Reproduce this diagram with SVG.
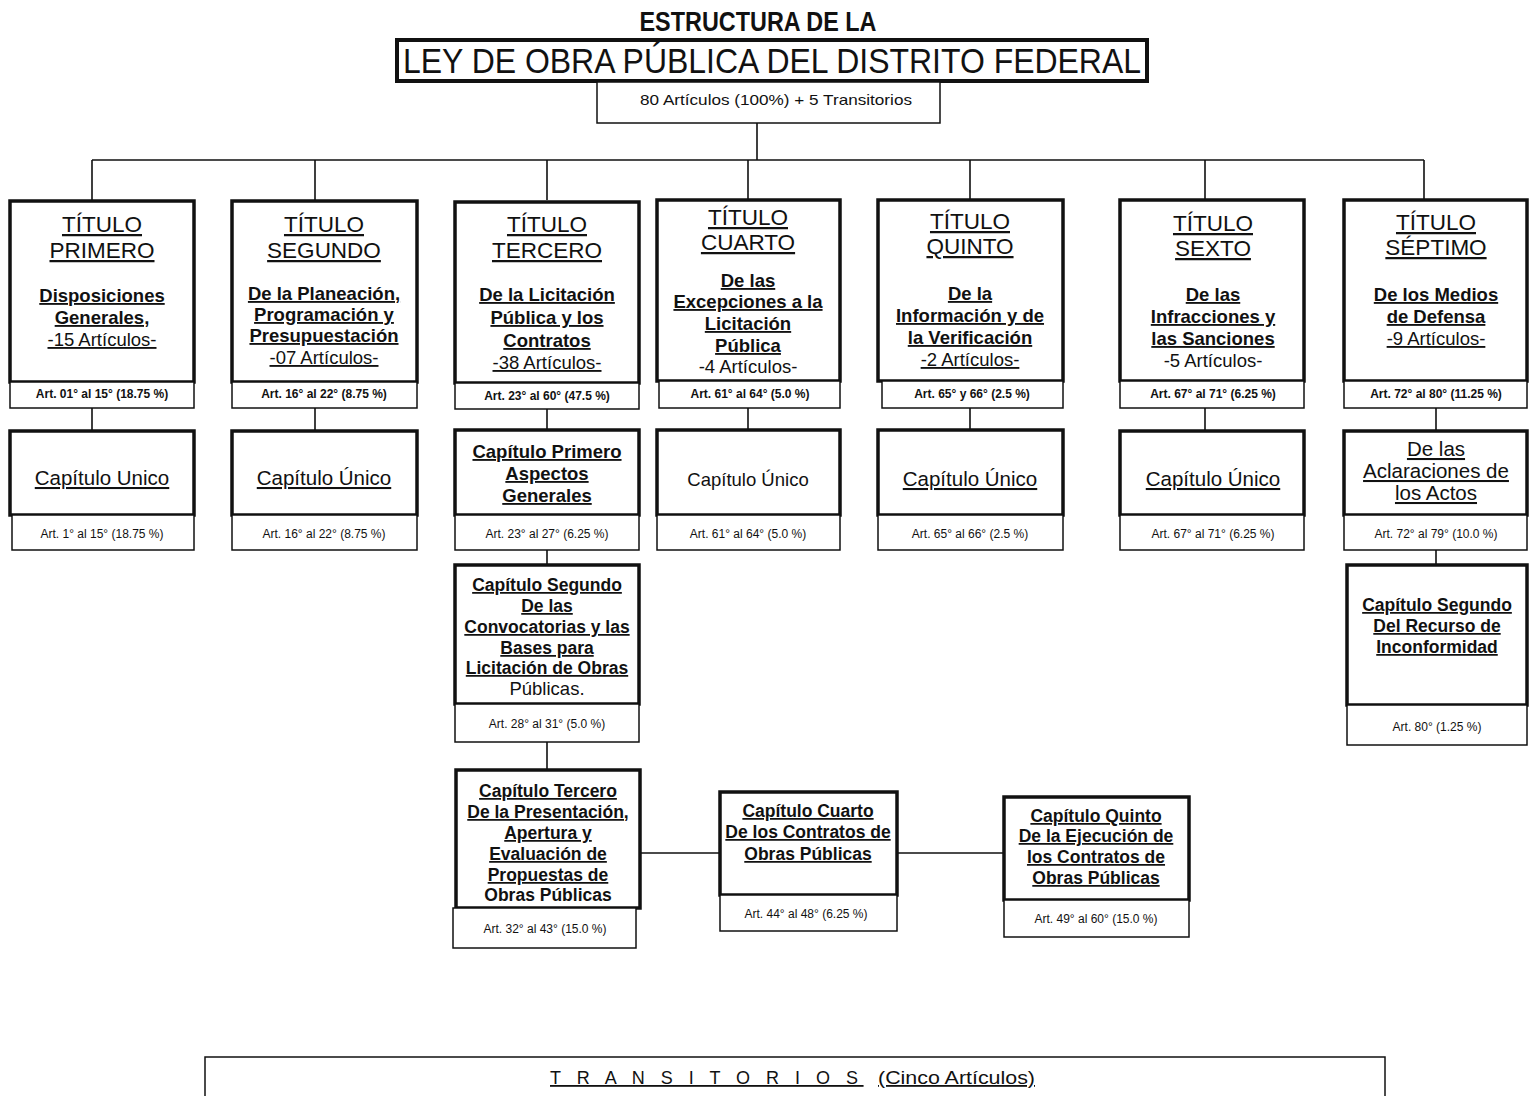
<svg xmlns="http://www.w3.org/2000/svg" width="1530" height="1096" viewBox="0 0 1530 1096">
<style>
text{font-family:"Liberation Sans",Arial,sans-serif;fill:#111;text-anchor:middle}
.bx{fill:#fff;stroke:#111;stroke-width:3.5}
.ab{fill:#fff;stroke:#111;stroke-width:1.5}
.ln{fill:none;stroke:#111;stroke-width:1.6}
.tt{font-size:22.5px;text-decoration:underline}
.st{font-size:18.5px;font-weight:bold;text-decoration:underline}
.sn{font-size:18.5px;text-decoration:underline}
.nu{font-size:18.5px}
.ar{font-size:12px;font-weight:bold}
.an{font-size:12px}
.cu{font-size:20.5px;text-decoration:underline}
.cb{font-size:17.5px;font-weight:bold;text-decoration:underline}
.cbn{font-size:17.5px;font-weight:bold}
.tr{font-size:18px;text-anchor:start;text-decoration:underline}
</style>
<rect width="1530" height="1096" fill="#fff"/>
<g id="header">
<text x="758" y="31" font-size="27" font-weight="bold" textLength="237" lengthAdjust="spacingAndGlyphs">ESTRUCTURA DE LA</text>
<rect x="397" y="40" width="750" height="41" fill="#fff" stroke="#111" stroke-width="4"/>
<text x="772" y="73" font-size="35" textLength="738" lengthAdjust="spacingAndGlyphs">LEY DE OBRA PÚBLICA DEL DISTRITO FEDERAL</text>
<rect x="597" y="82" width="343" height="41" class="ab"/>
<text x="776" y="105" font-size="14.5" textLength="272" lengthAdjust="spacingAndGlyphs">80 Artículos (100%) + 5 Transitorios</text>
</g>
<g id="connectors">
<path class="ln" d="M757 123V160M92 160H1424M92 160V200M315 160V200M547 160V200M748 160V200M970 160V200M1205 160V200M1424 160V200"/>
<path class="ln" d="M92 408V430M315 408V430M547 408V430M748 408V430M970 408V430M1205 408V430M1436 408V430"/>
<path class="ln" d="M547 550V565M547 742V770M1436 550V565M640 853H720M897 853H1003"/>
</g>
<g id="t1">
<rect class="bx" x="10" y="201" width="184" height="181"/>
<rect class="ab" x="10" y="382" width="184" height="26"/>
<text class="tt" x="102" y="232">TÍTULO</text>
<text class="tt" x="102" y="258">PRIMERO</text>
<text class="st" x="102" y="302">Disposiciones</text>
<text class="st" x="102" y="324">Generales,</text>
<text class="sn" x="102" y="346">-15 Artículos-</text>
<text class="ar" x="102" y="398">Art. 01° al 15° (18.75 %)</text>
</g>
<g id="c1">
<rect class="bx" x="10" y="431" width="184" height="84"/>
<rect class="ab" x="12" y="515" width="182" height="35"/>
<text class="cu" x="102" y="485">Capítulo Unico</text>
<text class="an" x="102" y="538">Art. 1° al 15° (18.75 %)</text>
</g>
<g id="t2">
<rect class="bx" x="232" y="201" width="185" height="181"/>
<rect class="ab" x="232" y="382" width="185" height="26"/>
<text class="tt" x="324" y="232">TÍTULO</text>
<text class="tt" x="324" y="258">SEGUNDO</text>
<text class="st" x="324" y="300">De la Planeación,</text>
<text class="st" x="324" y="321">Programación y</text>
<text class="st" x="324" y="342">Presupuestación</text>
<text class="sn" x="324" y="364">-07 Artículos-</text>
<text class="ar" x="324" y="398">Art. 16° al 22° (8.75 %)</text>
</g>
<g id="c2">
<rect class="bx" x="232" y="431" width="185" height="84"/>
<rect class="ab" x="232" y="515" width="185" height="35"/>
<text class="cu" x="324" y="485">Capítulo Único</text>
<text class="an" x="324" y="538">Art. 16° al 22° (8.75 %)</text>
</g>
<g id="t3">
<rect class="bx" x="455" y="202" width="184" height="181"/>
<rect class="ab" x="455" y="383" width="184" height="26"/>
<text class="tt" x="547" y="232">TÍTULO</text>
<text class="tt" x="547" y="258">TERCERO</text>
<text class="st" x="547" y="301">De la Licitación</text>
<text class="st" x="547" y="324">Pública y los</text>
<text class="st" x="547" y="347">Contratos</text>
<text class="sn" x="547" y="369">-38 Artículos-</text>
<text class="ar" x="547" y="400">Art. 23° al 60° (47.5 %)</text>
</g>
<g id="c3a">
<rect class="bx" x="455" y="430" width="184" height="85"/>
<rect class="ab" x="455" y="515" width="184" height="35"/>
<text class="st" x="547" y="458" font-size="19">Capítulo Primero</text>
<text class="st" x="547" y="480" font-size="19">Aspectos</text>
<text class="st" x="547" y="502" font-size="19">Generales</text>
<text class="an" x="547" y="538">Art. 23° al 27° (6.25 %)</text>
</g>
<g id="c3b">
<rect class="bx" x="455" y="565" width="184" height="139"/>
<rect class="ab" x="455" y="704" width="184" height="38"/>
<text class="cb" x="547" y="591">Capítulo Segundo</text>
<text class="cb" x="547" y="612">De las</text>
<text class="cb" x="547" y="633">Convocatorias y las</text>
<text class="cb" x="547" y="654">Bases para</text>
<text class="cb" x="547" y="674">Licitación de Obras</text>
<text class="nu" x="547" y="695" font-size="17.5">Públicas.</text>
<text class="an" x="547" y="728">Art. 28° al 31° (5.0 %)</text>
</g>
<g id="c3c">
<rect class="bx" x="456" y="770" width="184" height="138"/>
<rect class="ab" x="453" y="908" width="183" height="40"/>
<text class="cb" x="548" y="797">Capítulo Tercero</text>
<text class="cb" x="548" y="818">De la Presentación,</text>
<text class="cb" x="548" y="839">Apertura y</text>
<text class="cb" x="548" y="860">Evaluación de</text>
<text class="cb" x="548" y="881">Propuestas de</text>
<text class="cbn" x="548" y="901">Obras Públicas</text>
<text class="an" x="545" y="933">Art. 32° al 43° (15.0 %)</text>
</g>
<g id="c3d">
<rect class="bx" x="720" y="792" width="177" height="103"/>
<rect class="ab" x="720" y="895" width="177" height="36"/>
<text class="cb" x="808" y="817">Capítulo Cuarto</text>
<text class="cb" x="808" y="838">De los Contratos de</text>
<text class="cb" x="808" y="860">Obras Públicas</text>
<text class="an" x="806" y="918">Art. 44° al 48° (6.25 %)</text>
</g>
<g id="c3e">
<rect class="bx" x="1004" y="797" width="185" height="103"/>
<rect class="ab" x="1004" y="900" width="185" height="37"/>
<text class="cb" x="1096" y="822">Capítulo Quinto</text>
<text class="cb" x="1096" y="842">De la Ejecución de</text>
<text class="cb" x="1096" y="863">los Contratos de</text>
<text class="cb" x="1096" y="884">Obras Públicas</text>
<text class="an" x="1096" y="923">Art. 49° al 60° (15.0 %)</text>
</g>
<g id="t4">
<rect class="bx" x="657" y="200" width="183" height="181"/>
<rect class="ab" x="659" y="381" width="181" height="27"/>
<text class="tt" x="748" y="225">TÍTULO</text>
<text class="tt" x="748" y="250">CUARTO</text>
<text class="st" x="748" y="287">De las</text>
<text class="st" x="748" y="308">Excepciones a la</text>
<text class="st" x="748" y="330">Licitación</text>
<text class="st" x="748" y="352">Pública</text>
<text class="nu" x="748" y="373">-4 Artículos-</text>
<text class="ar" x="750" y="398">Art. 61° al 64° (5.0 %)</text>
</g>
<g id="c4">
<rect class="bx" x="657" y="430" width="183" height="85"/>
<rect class="ab" x="657" y="515" width="183" height="35"/>
<text class="nu" x="748" y="486" font-size="20.5">Capítulo Único</text>
<text class="an" x="748" y="538">Art. 61° al 64° (5.0 %)</text>
</g>
<g id="t5">
<rect class="bx" x="878" y="200" width="185" height="181"/>
<rect class="ab" x="882" y="381" width="181" height="27"/>
<text class="tt" x="970" y="229">TÍTULO</text>
<text class="tt" x="970" y="254">QUINTO</text>
<text class="st" x="970" y="300">De la</text>
<text class="st" x="970" y="322">Información y de</text>
<text class="st" x="970" y="344">la Verificación</text>
<text class="sn" x="970" y="366">-2 Artículos-</text>
<text class="ar" x="972" y="398">Art. 65° y 66° (2.5 %)</text>
</g>
<g id="c5">
<rect class="bx" x="878" y="430" width="185" height="85"/>
<rect class="ab" x="878" y="515" width="185" height="35"/>
<text class="cu" x="970" y="486">Capítulo Único</text>
<text class="an" x="970" y="538">Art. 65° al 66° (2.5 %)</text>
</g>
<g id="t6">
<rect class="bx" x="1120" y="200" width="184" height="181"/>
<rect class="ab" x="1120" y="381" width="184" height="27"/>
<text class="tt" x="1213" y="231">TÍTULO</text>
<text class="tt" x="1213" y="256">SEXTO</text>
<text class="st" x="1213" y="301">De las</text>
<text class="st" x="1213" y="323">Infracciones y</text>
<text class="st" x="1213" y="345">las Sanciones</text>
<text class="nu" x="1213" y="367">-5 Artículos-</text>
<text class="ar" x="1213" y="398">Art. 67° al 71° (6.25 %)</text>
</g>
<g id="c6">
<rect class="bx" x="1120" y="431" width="184" height="84"/>
<rect class="ab" x="1120" y="515" width="184" height="35"/>
<text class="cu" x="1213" y="486">Capítulo Único</text>
<text class="an" x="1213" y="538">Art. 67° al 71° (6.25 %)</text>
</g>
<g id="t7">
<rect class="bx" x="1344" y="200" width="183" height="181"/>
<rect class="ab" x="1344" y="381" width="183" height="27"/>
<text class="tt" x="1436" y="230">TÍTULO</text>
<text class="tt" x="1436" y="255">SÉPTIMO</text>
<text class="st" x="1436" y="301">De los Medios</text>
<text class="st" x="1436" y="323">de Defensa</text>
<text class="sn" x="1436" y="345">-9 Artículos-</text>
<text class="ar" x="1436" y="398">Art. 72° al 80° (11.25 %)</text>
</g>
<g id="c7a">
<rect class="bx" x="1344" y="431" width="183" height="84"/>
<rect class="ab" x="1344" y="515" width="183" height="35"/>
<text class="cu" x="1436" y="456">De las</text>
<text class="cu" x="1436" y="478">Aclaraciones de</text>
<text class="cu" x="1436" y="500">los Actos</text>
<text class="an" x="1436" y="538">Art. 72° al 79° (10.0 %)</text>
</g>
<g id="c7b">
<rect class="bx" x="1347" y="565" width="180" height="140"/>
<rect class="ab" x="1347" y="705" width="180" height="40"/>
<text class="cb" x="1437" y="611" font-size="17">Capítulo Segundo</text>
<text class="cb" x="1437" y="632" font-size="17">Del Recurso de</text>
<text class="cb" x="1437" y="653" font-size="17">Inconformidad</text>
<text class="an" x="1437" y="731">Art. 80° (1.25 %)</text>
</g>
<g id="transitorios">
<rect x="205" y="1057" width="1180" height="60" fill="#fff" stroke="#111" stroke-width="1.5"/>
<text class="tr" x="550" y="1084" letter-spacing="5.5">T R A N S I T O R I O S</text>
<text class="tr" x="878" y="1084" textLength="157" lengthAdjust="spacingAndGlyphs">(Cinco Artículos)</text>
</g>
</svg>
